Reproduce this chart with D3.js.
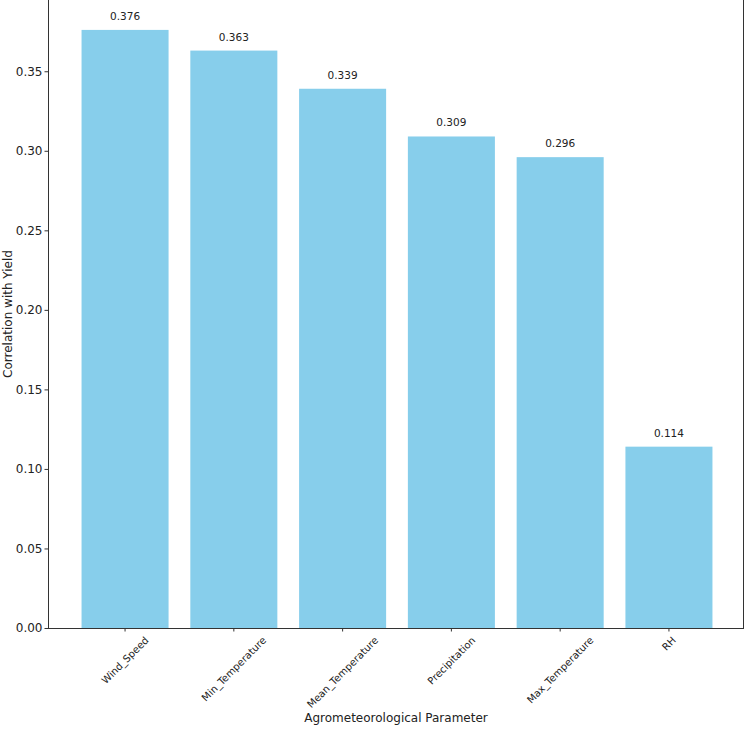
<html>
<head>
<style>
  body { margin: 0; background: #fff; }
  text { font-family: "DejaVu Sans", sans-serif; fill: #222; }
</style>
</head>
<body>
<svg class="chart"></svg>
<script src="https://d3js.org/d3.v7.min.js"></script>
<script>
var params = ['Wind_Speed', 'Min_Temperature', 'Mean_Temperature', 'Precipitation', 'Max_Temperature', 'RH'];
var corr = [0.376, 0.363, 0.339, 0.309, 0.296, 0.114];
var yTicks = [0, 0.05, 0.10, 0.15, 0.20, 0.25, 0.30, 0.35];

var W = 746, H = 729;
var plotLeft = 48, plotRight = 744, plotTop = 0, plotBottom = 628;

var svg = d3.select('.chart').attr('width', W).attr('height', H);

var x = d3.scaleBand().domain(params).range([plotLeft + 2, plotRight])
    .paddingInner(0.2).paddingOuter(0.29);
var y = d3.scaleLinear().domain([0, d3.max(corr) * 1.05]).range([plotBottom, plotTop]);

// bars
svg.selectAll('rect.bar').data(corr).enter().append('rect')
    .attr('class', 'bar')
    .attr('x', function(d, i) { return x(params[i]); })
    .attr('width', x.bandwidth())
    .attr('y', function(d) { return y(d); })
    .attr('height', function(d) { return plotBottom - y(d); })
    .style('fill', '#87CEEB');

// value labels
svg.selectAll('text.val').data(corr).enter().append('text')
    .attr('class', 'val')
    .attr('x', function(d, i) { return x(params[i]) + x.bandwidth() / 2; })
    .attr('y', function(d) { return y(d) - 10; })
    .attr('text-anchor', 'middle')
    .style('font-size', '10.5px')
    .text(function(d) { return d.toFixed(3); });

// y axis
var yAxis = svg.append('g').attr('transform', 'translate(' + plotLeft + ',0)')
    .call(d3.axisLeft(y).tickValues(yTicks).tickFormat(d3.format('.2f')).tickSize(3.5).tickPadding(2));
yAxis.selectAll('text').style('font-size', '12px').style('font-family', '"DejaVu Sans", sans-serif').attr('fill', '#222');
yAxis.selectAll('line').attr('stroke', '#333');
yAxis.select('.domain').attr('stroke', '#333').attr('d', 'M0.5,' + plotBottom + 'V' + plotTop);

// x axis
var xAxis = svg.append('g').attr('transform', 'translate(0,' + plotBottom + ')')
    .call(d3.axisBottom(x).tickSize(3.5).tickFormat(''));
xAxis.selectAll('line').attr('stroke', '#333');
xAxis.select('.domain').attr('stroke', '#333').attr('d', 'M' + plotLeft + ',0.5H' + plotRight);

// right spine
svg.append('line').attr('x1', plotRight - 0.5).attr('x2', plotRight - 0.5)
    .attr('y1', plotTop).attr('y2', plotBottom)
    .attr('stroke', '#333');

// rotated tick labels (centered bbox under the tick, like matplotlib rotation=45)
var s = Math.SQRT1_2;
params.forEach(function(p) {
    var t = svg.append('text').style('font-size', '10px').attr('text-anchor', 'middle').text(p);
    var w = t.node().getComputedTextLength();
    var fh = 10;
    var hbox = (w + fh) * s;
    var cx = x(p) + x.bandwidth() / 2, cy = plotBottom + 7 + hbox / 2;
    t.attr('transform', 'translate(' + cx + ',' + cy + ') rotate(-45)')
        .attr('dy', '0.35em');
});

// axis titles
svg.append('text').attr('x', (plotLeft + plotRight) / 2).attr('y', 722)
    .attr('text-anchor', 'middle').style('font-size', '12px')
    .text('Agrometeorological Parameter');
svg.append('text').attr('transform', 'translate(12,' + (plotBottom / 2) + ') rotate(-90)')
    .attr('text-anchor', 'middle').style('font-size', '12px')
    .text('Correlation with Yield');
</script>
</body>
</html>
